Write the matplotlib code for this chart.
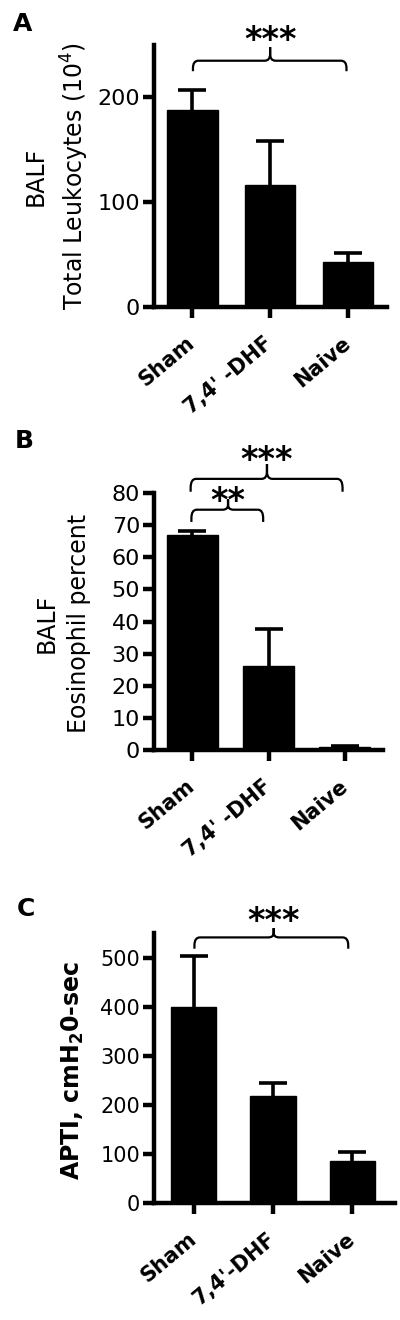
import matplotlib.pyplot as plt
from matplotlib.path import Path
from matplotlib.patches import PathPatch

plt.rcParams['font.family'] = 'DejaVu Sans'

# ---------------------------------------------------------------------------------------------------------------------
# data

groups_ab = ['Sham', "7,4' -DHF", 'Naive']
groups_c = ['Sham', "7,4'-DHF", 'Naive']

leuko_mean = [188, 116, 43]
leuko_err = [19, 42, 9]

eos_mean = [67.0, 26.3, 0.8]
eos_err = [1.2, 11.5, 0.3]

apti_mean = [400, 217, 86]
apti_err = [104, 28, 17]

# ---------------------------------------------------------------------------------------------------------------------

W, H = 400, 1320
fig = plt.figure(figsize=(W / 100, H / 100), dpi=100)


def px_axes(left, top, right, bottom):
    '''add axes from pixel box of the reference'''
    return fig.add_axes([left / W, 1 - bottom / H, (right - left) / W, (bottom - top) / H])


def style(ax, labelsize=16):
    for s in ['top', 'right']:
        ax.spines[s].set_visible(False)
    for s in ['left', 'bottom']:
        ax.spines[s].set_linewidth(3.2)
    ax.tick_params(length=8, width=3.2, labelsize=labelsize, pad=2)
    ax.tick_params(axis='x', pad=16)


def bars(ax, names, means, errs, width):
    x = list(range(len(names)))
    ax.bar(x, means, width=width, color='black', edgecolor='black', zorder=2)
    eb = ax.errorbar(x, means, yerr=[[0] * len(errs), errs], fmt='none', ecolor='black',
                     elinewidth=2.6, capsize=10, capthick=2.6, zorder=1)
    eb[1][0].set_visible(False)  # only the upper cap
    ax.set_xticks(x)
    ax.set_xticklabels(names, rotation=40, ha='right', va='center', rotation_mode='anchor',
                       fontsize=15, fontweight='bold')


def bracket(ax, x1, x2, xm, y_end, y_h, y_tick, stars, y_star, rx=0.07):
    ry = 0.7 * (y_h - y_end)
    rt = 0.5 * (y_tick - y_h)
    verts = [(x1, y_end), (x1, y_h - ry), (x1, y_h), (x1 + rx, y_h),
             (xm - rx, y_h), (xm, y_h), (xm, y_h + rt), (xm, y_tick),
             (xm, y_h + rt), (xm, y_h), (xm + rx, y_h),
             (x2 - rx, y_h), (x2, y_h), (x2, y_h - ry), (x2, y_end)]
    codes = [Path.MOVETO, Path.LINETO, Path.CURVE3, Path.CURVE3,
             Path.LINETO, Path.CURVE3, Path.CURVE3, Path.LINETO,
             Path.LINETO, Path.CURVE3, Path.CURVE3,
             Path.LINETO, Path.CURVE3, Path.CURVE3, Path.LINETO]
    ax.add_patch(PathPatch(Path(verts, codes), fill=False, lw=1.6, color='black', clip_on=False))
    ax.text(xm, y_star, stars, ha='center', va='baseline', fontsize=24, fontweight='bold', clip_on=False)


# ---------------------------------------------------------------------------------------------------------------------
# A

axA = px_axes(154, 45, 387, 307)
style(axA)
bars(axA, groups_ab, leuko_mean, leuko_err, 0.65)
axA.set_xlim(-0.49, 2.5)
axA.set_ylim(0, 250)
axA.set_yticks([0, 100, 200])
bracket(axA, 0.01, 1.98, 1.0, 225, 235, 248, '***', 245)
fig.text(57 / W, 1 - 176 / H, 'BALF\nTotal Leukocytes (10$^4$)', rotation=90, ha='center', va='center',
         fontsize=17, linespacing=1.45, multialignment='center')
fig.text(13 / W, 1 - 12 / H, 'A', fontsize=18, fontweight='bold', ha='left', va='top')

# B

axB = px_axes(154, 493, 383, 750)
style(axB)
bars(axB, groups_ab, eos_mean, eos_err, 0.67)
axB.set_xlim(-0.5, 2.5)
axB.set_ylim(0, 80)
axB.set_yticks(range(0, 81, 10))
bracket(axB, -0.01, 0.93, 0.47, 71, 74.8, 78, '**', 74.3)
bracket(axB, -0.02, 1.97, 0.98, 80.4, 84.4, 89, '***', 87.3)
fig.text(63 / W, 1 - 623 / H, 'BALF\nEosinophil percent', rotation=90, ha='center', va='center',
         fontsize=17, linespacing=1.45, multialignment='center')
fig.text(15 / W, 1 - 429 / H, 'B', fontsize=18, fontweight='bold', ha='left', va='top')

# C

axC = px_axes(154, 933, 395, 1203)
style(axC, labelsize=15)
bars(axC, groups_c, apti_mean, apti_err, 0.57)
axC.set_xlim(-0.5, 2.54)
axC.set_ylim(0, 550)
axC.set_yticks(range(0, 501, 100))
bracket(axC, 0.01, 1.95, 1.01, 518, 541, 560, '***', 555)
fig.text(73 / W, 1 - 1070 / H, r'APTI, cmH$_\mathbf{2}$0-sec', rotation=90, ha='center', va='center',
         fontsize=17, fontweight='bold')
fig.text(17 / W, 1 - 897 / H, 'C', fontsize=18, fontweight='bold', ha='left', va='top')

fig.savefig('out.png', dpi=100)
